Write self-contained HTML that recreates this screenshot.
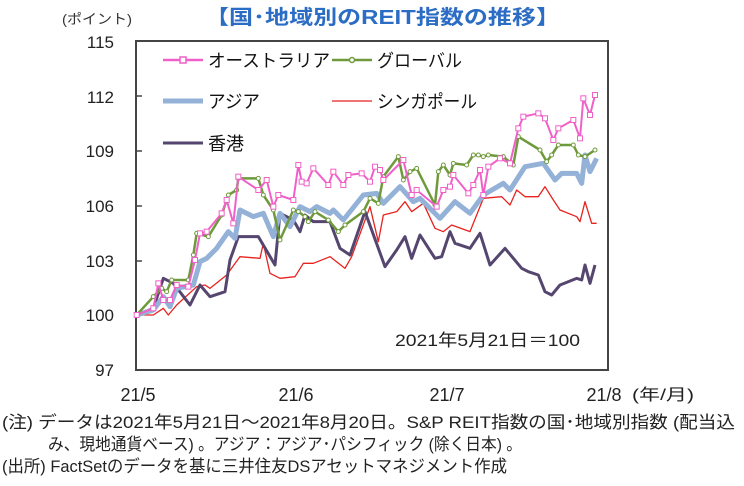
<!DOCTYPE html>
<html><head><meta charset="utf-8"><style>
body{margin:0;background:#fff;width:744px;height:481px;overflow:hidden;font-family:"Liberation Sans","Noto Sans CJK JP",sans-serif}
svg text{font-family:"Liberation Sans","Noto Sans CJK JP",sans-serif}
</style></head><body>
<svg id="s" width="744" height="481" xmlns="http://www.w3.org/2000/svg">
<text x="205" y="24" textLength="355" lengthAdjust="spacingAndGlyphs" font-size="20" font-weight="bold" fill="#2b6cc4">【国･地域別のREIT指数の推移】</text>
<text x="62" y="24" textLength="70" lengthAdjust="spacingAndGlyphs" font-size="14" fill="#333">(ポイント)</text>
<rect x="136" y="41" width="472" height="329" fill="none" stroke="#444" stroke-width="2"/>
<g font-size="17" fill="#222" text-anchor="end">
<text x="114" y="48">115</text><text x="114" y="103">112</text><text x="114" y="157">109</text><text x="114" y="212">106</text><text x="114" y="267">103</text><text x="114" y="321">100</text><text x="114" y="376">97</text>
</g>
<g stroke="#444" stroke-width="1.5">
<line x1="136" y1="96" x2="142" y2="96"/><line x1="136" y1="151" x2="142" y2="151"/><line x1="136" y1="206" x2="142" y2="206"/><line x1="136" y1="261" x2="142" y2="261"/><line x1="136" y1="315" x2="142" y2="315"/>
</g>
<g font-size="18" fill="#222" text-anchor="middle">
<text x="138" y="401">21/5</text><text x="296" y="401">21/6</text><text x="447" y="401">21/7</text><text x="604" y="401">21/8</text>
</g>
<text x="632" y="400" textLength="62" lengthAdjust="spacingAndGlyphs" font-size="16" fill="#222">(年/月)</text>
<text x="395" y="346" textLength="185" lengthAdjust="spacingAndGlyphs" font-size="17" fill="#222">2021年5月21日＝100</text>
<g font-size="17" fill="#222">
<text x="2" y="428" textLength="733" lengthAdjust="spacingAndGlyphs">(注) データは2021年5月21日～2021年8月20日。S&amp;P  REIT指数の国･地域別指数 (配当込</text>
<text x="48" y="450" textLength="474" lengthAdjust="spacingAndGlyphs">み、現地通貨ベース) 。アジア：アジア･パシフィック (除く日本) 。</text>
<text x="2" y="472" textLength="505" lengthAdjust="spacingAndGlyphs">(出所) FactSetのデータを基に三井住友DSアセットマネジメント作成</text>
</g>
<g font-size="18" fill="#111">
<line x1="163" y1="60" x2="203" y2="60" stroke="#f060c8" stroke-width="2.5"/><rect x="180" y="57" width="6" height="6" fill="#fff" stroke="#f060c8" stroke-width="1.5"/>
<text x="208" y="67" textLength="122" lengthAdjust="spacingAndGlyphs">オーストラリア</text>
<line x1="332" y1="60" x2="372" y2="60" stroke="#6f9a3c" stroke-width="2.5"/><circle cx="352" cy="60" r="2.5" fill="#fff" stroke="#6f9a3c" stroke-width="1.5"/>
<text x="377" y="67" textLength="85" lengthAdjust="spacingAndGlyphs">グローバル</text>
<line x1="163" y1="101" x2="203" y2="101" stroke="#94b1d8" stroke-width="5"/>
<text x="208" y="108" textLength="52" lengthAdjust="spacingAndGlyphs">アジア</text>
<line x1="332" y1="101" x2="372" y2="101" stroke="#e8231e" stroke-width="1.3"/>
<text x="377" y="108" textLength="100" lengthAdjust="spacingAndGlyphs">シンガポール</text>
<line x1="163" y1="143" x2="203" y2="143" stroke="#55466f" stroke-width="3"/>
<text x="208" y="150" textLength="36" lengthAdjust="spacingAndGlyphs">香港</text>
</g>
<g id="g"></g>
</svg>
<script>
var D={
hk:[20,855,70,835,100,745,130,760,180,825,210,765,240,800,285,785,300,690,325,620,385,620,435,705,450,550,490,570,510,605,525,555,550,575,600,575,630,655,660,675,705,545,765,710,800,660,825,620,845,685,870,615,915,685,935,680,960,605,975,640,1020,655,1050,610,1080,705,1125,655,1175,715,1195,725,1225,735,1245,785,1265,795,1290,765,1340,745,1355,750,1365,705,1380,760,1395,705],
as:[20,855,70,840,100,800,120,830,140,775,190,765,210,695,230,685,260,655,295,605,315,625,330,540,370,560,400,550,430,620,450,550,480,590,510,530,540,545,560,530,600,550,610,540,640,570,700,495,740,490,760,520,810,470,850,515,870,505,930,565,975,515,1020,550,1060,495,1120,460,1140,480,1185,410,1240,400,1275,450,1295,430,1340,430,1355,460,1365,375,1380,425,1400,385],
sg:[20,855,70,855,100,835,115,855,140,825,200,770,225,765,240,775,290,735,330,680,390,685,400,640,420,730,450,745,495,740,520,700,550,700,600,680,645,715,665,680,720,530,745,635,760,555,800,545,825,515,845,545,880,520,915,595,940,605,965,585,1020,605,1060,505,1115,500,1140,525,1160,480,1185,500,1225,500,1245,470,1270,510,1290,540,1340,560,1350,575,1365,515,1385,580,1400,580],
gl:[20,855,70,800,95,775,110,785,125,750,175,750,190,675,200,610,235,620,275,555,295,495,320,480,325,445,385,445,400,495,430,540,450,630,490,540,505,545,525,560,535,575,555,545,595,570,625,605,645,585,700,545,720,505,745,520,760,440,805,380,820,450,840,425,860,415,915,525,925,425,940,405,960,435,970,400,1010,405,1030,375,1045,375,1060,380,1075,375,1120,380,1150,405,1165,320,1230,360,1250,395,1265,375,1285,345,1330,345,1345,375,1365,380,1395,360],
au:[20,855,70,835,85,760,100,810,120,810,140,765,175,770,195,690,210,610,230,605,275,550,290,510,310,580,325,440,385,480,410,450,430,530,445,495,490,510,505,405,515,455,530,460,550,415,595,465,610,425,640,465,655,435,695,430,720,455,735,410,750,420,760,450,820,390,845,495,860,480,920,530,940,480,960,470,970,435,1015,490,1030,465,1050,420,1060,495,1075,410,1110,385,1140,400,1165,295,1180,260,1225,250,1245,265,1270,330,1285,295,1330,270,1350,325,1360,205,1380,255,1395,195]};
function P(a){var r=[];for(var i=0;i<a.length;i+=2)r.push([a[i]/3+130,a[i+1]/3+30]);return r}
var g=document.getElementById('g'),h='';
function line(k,c,w){h+='<polyline fill="none" stroke="'+c+'" stroke-width="'+w+'" stroke-linejoin="round" points="'+P(D[k]).map(p=>p.join(',')).join(' ')+'"/>'}
line('sg','#e8231e',1.3);line('hk','#55466f',3);line('as','#94b1d8',5);
line('gl','#6f9a3c',2.5);P(D.gl).forEach(p=>h+='<circle cx="'+p[0]+'" cy="'+p[1]+'" r="2" fill="#fff" stroke="#6f9a3c" stroke-width="1"/>');
line('au','#f060c8',2);P(D.au).forEach(p=>h+='<rect x="'+(p[0]-2.5)+'" y="'+(p[1]-2.5)+'" width="5" height="5" fill="#fff" stroke="#f060c8" stroke-width="1"/>');
g.innerHTML=h;
</script>
</body></html>
